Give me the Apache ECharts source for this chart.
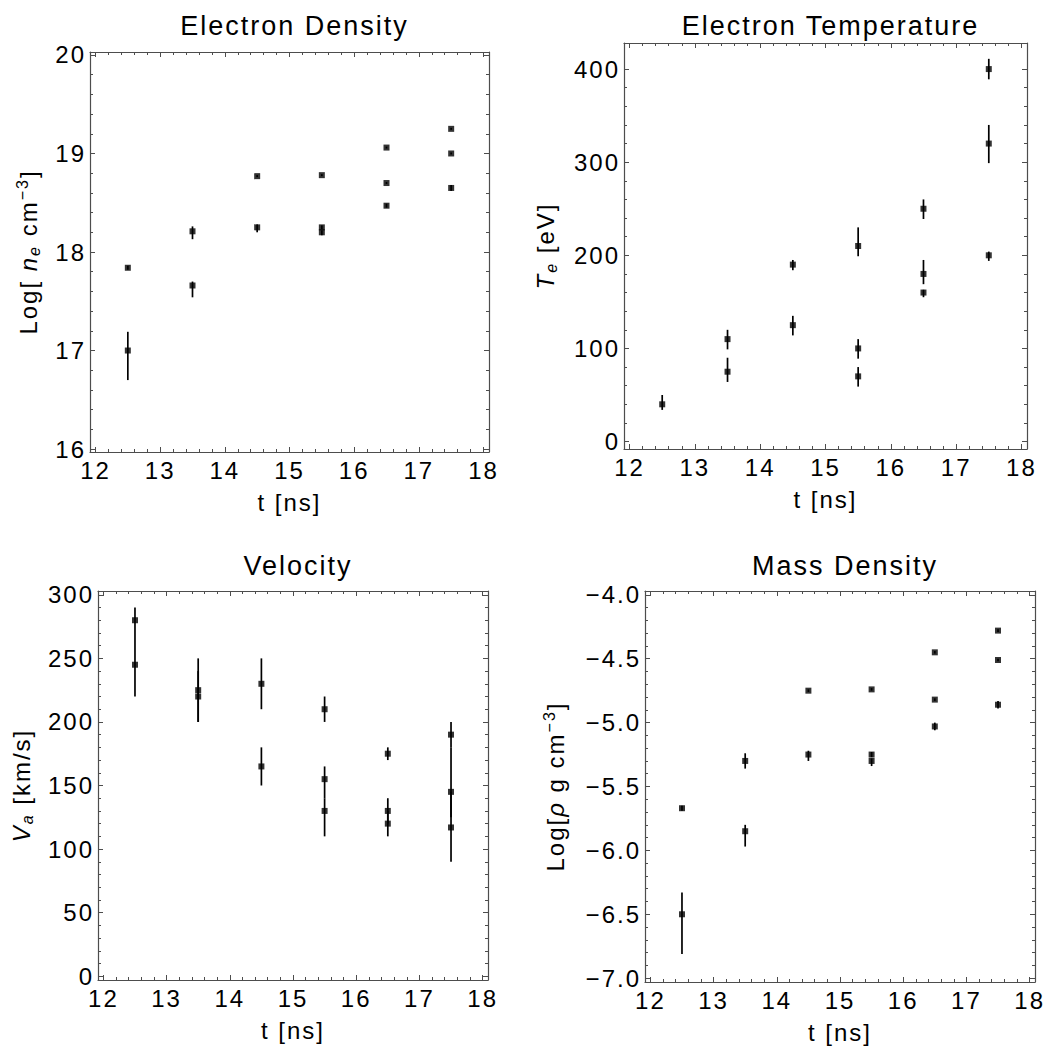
<!DOCTYPE html>
<html>
<head>
<meta charset="utf-8">
<script src="https://cdn.jsdelivr.net/npm/echarts@6/dist/echarts.min.js"></script>
<style>
  html, body { margin: 0; background: #fff; }
  #chart { width: 1052px; height: 1057px; }
  #chart text { letter-spacing: 2px; }
</style>
</head>
<body>
<div id="chart"></div>
<script>
// ---- data (t in ns, value, lower / upper end of error bar) ----
const timeTicks = [12, 13, 14, 15, 16, 17, 18];

const neT  = [12.5, 12.5, 13.5, 13.5, 14.5, 14.5, 15.5, 15.5, 15.5, 16.5, 16.5, 16.5, 17.5, 17.5, 17.5];
const neV  = [17.84, 17.0, 18.21, 17.66, 18.77, 18.25, 18.78, 18.25, 18.20, 19.06, 18.70, 18.47, 19.25, 19.00, 18.65];
const neLo = [17.82, 16.70, 18.13, 17.54, 18.76, 18.20, 18.77, 18.23, 18.17, 19.05, 18.69, 18.45, 19.24, 18.99, 18.62];
const neHi = [17.86, 17.19, 18.26, 17.70, 18.78, 18.28, 18.79, 18.27, 18.22, 19.07, 18.71, 18.49, 19.26, 19.01, 18.68];
const neTicks = [16, 17, 18, 19, 20];

const teT  = [12.5, 13.5, 13.5, 14.5, 14.5, 15.5, 15.5, 15.5, 16.5, 16.5, 16.5, 17.5, 17.5, 17.5];
const teV  = [40, 110, 75, 190, 125, 210, 100, 70, 250, 180, 160, 400, 320, 200];
const teLo = [34, 99, 64, 184, 114, 199, 89, 59, 239, 169, 155, 389, 299, 194];
const teHi = [50, 120, 90, 195, 135, 230, 110, 80, 260, 195, 163, 411, 340, 204];
const teTicks = [0, 100, 200, 300, 400];

const vaT  = [12.5, 12.5, 13.5, 13.5, 14.5, 14.5, 15.5, 15.5, 15.5, 16.5, 16.5, 16.5, 17.5, 17.5, 17.5];
const vaV  = [280, 245, 225, 220, 230, 165, 210, 155, 130, 175, 130, 120, 190, 145, 117];
const vaLo = [270, 220, 200, 200, 210, 150, 200, 140, 110, 170, 120, 110, 180, 125, 90];
const vaHi = [290, 270, 250, 240, 250, 180, 220, 165, 140, 180, 140, 130, 200, 180, 145];
const vaTicks = [0, 50, 100, 150, 200, 250, 300];

const rhoT  = [12.5, 12.5, 13.5, 13.5, 14.5, 14.5, 15.5, 15.5, 15.5, 16.5, 16.5, 16.5, 17.5, 17.5, 17.5];
const rhoV  = [-5.67, -6.5, -5.3, -5.85, -4.75, -5.25, -4.74, -5.25, -5.3, -4.45, -4.82, -5.03, -4.28, -4.51, -4.86];
const rhoLo = [-5.69, -6.81, -5.36, -5.97, -4.76, -5.30, -4.75, -5.27, -5.34, -4.46, -4.83, -5.06, -4.29, -4.52, -4.89];
const rhoHi = [-5.65, -6.33, -5.24, -5.80, -4.74, -5.22, -4.73, -5.23, -5.28, -4.44, -4.81, -5.00, -4.27, -4.50, -4.83];
const rhoTicks = [-7, -6.5, -6, -5.5, -5, -4.5, -4];

// ---- styling ----
const FONT = 'Liberation Sans';
const FRAME = '#4d4d4d';
const SPACING = 2;

// measure text with the same letter spacing the page css adds
const measureCtx = document.createElement('canvas').getContext('2d');
echarts.setPlatformAPI({
    measureText(text, font) {
        measureCtx.font = font || '12px sans-serif';
        const m = measureCtx.measureText(text);
        return {
            width: m.width + text.length * SPACING,
            actualBoundingBoxAscent: m.actualBoundingBoxAscent,
            actualBoundingBoxDescent: m.actualBoundingBoxDescent,
            actualBoundingBoxLeft: m.actualBoundingBoxLeft,
            actualBoundingBoxRight: m.actualBoundingBoxRight + text.length * SPACING,
            fontBoundingBoxAscent: m.fontBoundingBoxAscent,
            fontBoundingBoxDescent: m.fontBoundingBoxDescent,
        };
    },
});

const minorTicks = (majors, step) => {
    const out = [];
    for (let i = 0; i < majors.length - 1; i++) {
        const n = Math.round((majors[i + 1] - majors[i]) / step);
        for (let k = 1; k < n; k++) out.push(+(majors[i] + k * step).toFixed(4));
    }
    return out;
};

const nameRich = {
    a: { fontSize: 24, lineHeight: 30, color: '#000', fontFamily: FONT },
    i: { fontSize: 24, lineHeight: 30, color: '#000', fontStyle: 'italic', fontFamily: FONT },
    s: { fontSize: 16, lineHeight: 18, color: '#000', fontStyle: 'italic', verticalAlign: 'bottom', fontFamily: FONT },
    p: { fontSize: 16, lineHeight: 18, color: '#000', verticalAlign: 'top', fontFamily: FONT },
};

const panels = [
    {
        title: 'Electron Density', grid: { left: 90, top: 52, width: 399, height: 400 },
        t: neT, v: neV, lo: neLo, hi: neHi,
        yMin: 15.97, yMax: 20.03, yTicks: neTicks, yStep: 0.2,
        yName: '{a|Log[ }{i|n}{s|e}{a| cm}{p|−3}{a|]}', yGap: 47,
    },
    {
        title: 'Electron Temperature', grid: { left: 624, top: 43, width: 403, height: 406 },
        t: teT, v: teV, lo: teLo, hi: teHi,
        yMin: -8, yMax: 428, yTicks: teTicks, yStep: 20,
        yName: '{i|T}{s|e}{a| [eV]}', yGap: 64,
    },
    {
        title: 'Velocity', grid: { left: 98, top: 591, width: 390, height: 389 },
        t: vaT, v: vaV, lo: vaLo, hi: vaHi,
        yMin: -3, yMax: 303, yTicks: vaTicks, yStep: 10,
        yName: '{i|V}{s|a}{a| [km/s]}', yGap: 62,
    },
    {
        title: 'Mass Density', grid: { left: 645, top: 591, width: 390, height: 391 },
        t: rhoT, v: rhoV, lo: rhoLo, hi: rhoHi,
        yMin: -7.03, yMax: -3.97, yTicks: rhoTicks, yStep: 0.1,
        yName: '{a|Log[}{i|ρ}{a| g cm}{p|−3}{a|]}', yGap: 75,
        fmt: (v) => (v < 0 ? '−' : '') + Math.abs(v).toFixed(1),
    },
];

const X_MIN = 11.915;
const X_MAX = 18.085;

const tickLine = { color: FRAME, width: 1 };
const frameLine = { show: true, onZero: false, lineStyle: { color: FRAME, width: 1.2 } };
const noLine = { show: false, onZero: false };

const grids = [];
const xAxes = [];
const yAxes = [];
const series = [];
const titles = [];

panels.forEach((p, gi) => {
    grids.push(p.grid);
    titles.push({
        text: p.title,
        left: p.grid.left + p.grid.width / 2,
        top: p.grid.top < 100 ? 6 : 546,
        textAlign: 'center',
        textStyle: { fontSize: 27, fontWeight: 'normal', color: '#000', fontFamily: FONT },
    });

    const xBase = { gridIndex: gi, type: 'value', min: X_MIN, max: X_MAX, splitLine: { show: false } };
    const xMinor = minorTicks(timeTicks, 0.2);
    xAxes.push(
        {
            ...xBase, position: 'bottom', axisLine: frameLine,
            axisTick: { inside: true, length: 5, customValues: timeTicks, lineStyle: tickLine },
            axisLabel: { customValues: timeTicks, margin: 5, fontSize: 24, color: '#000', fontFamily: FONT },
            name: 't [ns]', nameLocation: 'middle', nameGap: 37,
            nameTextStyle: { fontSize: 24, color: '#000', fontFamily: FONT },
        },
        {
            ...xBase, position: 'bottom', axisLine: noLine,
            axisTick: { inside: true, length: 3, customValues: xMinor, lineStyle: tickLine },
            axisLabel: { show: false },
        },
        {
            ...xBase, position: 'top', axisLine: frameLine,
            axisTick: { inside: true, length: 5, customValues: timeTicks, lineStyle: tickLine },
            axisLabel: { show: false },
        },
        {
            ...xBase, position: 'top', axisLine: noLine,
            axisTick: { inside: true, length: 3, customValues: xMinor, lineStyle: tickLine },
            axisLabel: { show: false },
        }
    );

    const yBase = { gridIndex: gi, type: 'value', min: p.yMin, max: p.yMax, splitLine: { show: false } };
    const yMinor = minorTicks(p.yTicks, p.yStep);
    yAxes.push(
        {
            ...yBase, position: 'left', axisLine: frameLine,
            axisTick: { inside: true, length: 5, customValues: p.yTicks, lineStyle: tickLine },
            axisLabel: {
                customValues: p.yTicks, margin: 4, fontSize: 24, color: '#000', fontFamily: FONT,
                formatter: p.fmt,
            },
            name: p.yName, nameLocation: 'middle', nameGap: p.yGap,
            nameTextStyle: { rich: nameRich },
        },
        {
            ...yBase, position: 'left', axisLine: noLine,
            axisTick: { inside: true, length: 3, customValues: yMinor, lineStyle: tickLine },
            axisLabel: { show: false },
        },
        {
            ...yBase, position: 'right', axisLine: frameLine,
            axisTick: { inside: true, length: 5, customValues: p.yTicks, lineStyle: tickLine },
            axisLabel: { show: false },
        },
        {
            ...yBase, position: 'right', axisLine: noLine,
            axisTick: { inside: true, length: 3, customValues: yMinor, lineStyle: tickLine },
            axisLabel: { show: false },
        }
    );

    const rows = p.t.map((t, k) => [t, p.v[k], p.lo[k], p.hi[k]]);
    series.push(
        {
            type: 'custom',
            xAxisIndex: gi * 4,
            yAxisIndex: gi * 4,
            data: rows,
            encode: { x: 0, y: [2, 3] },
            renderItem: (params, api) => {
                const top = api.coord([api.value(0), api.value(3)]);
                const bottom = api.coord([api.value(0), api.value(2)]);
                return {
                    type: 'line',
                    shape: { x1: top[0], y1: top[1], x2: bottom[0], y2: bottom[1] },
                    style: { stroke: '#000', lineWidth: 1.7 },
                };
            },
            z: 2,
        },
        {
            type: 'scatter',
            xAxisIndex: gi * 4,
            yAxisIndex: gi * 4,
            data: rows.map((r) => [r[0], r[1]]),
            symbol: 'rect',
            symbolSize: 6,
            itemStyle: { color: '#000' },
            z: 3,
        }
    );
});

const chart = echarts.init(document.getElementById('chart'), null, { renderer: 'svg' });
chart.setOption({
    animation: false,
    backgroundColor: '#fff',
    textStyle: { fontFamily: FONT },
    title: titles,
    grid: grids,
    xAxis: xAxes,
    yAxis: yAxes,
    series: series,
});
</script>
</body>
</html>
